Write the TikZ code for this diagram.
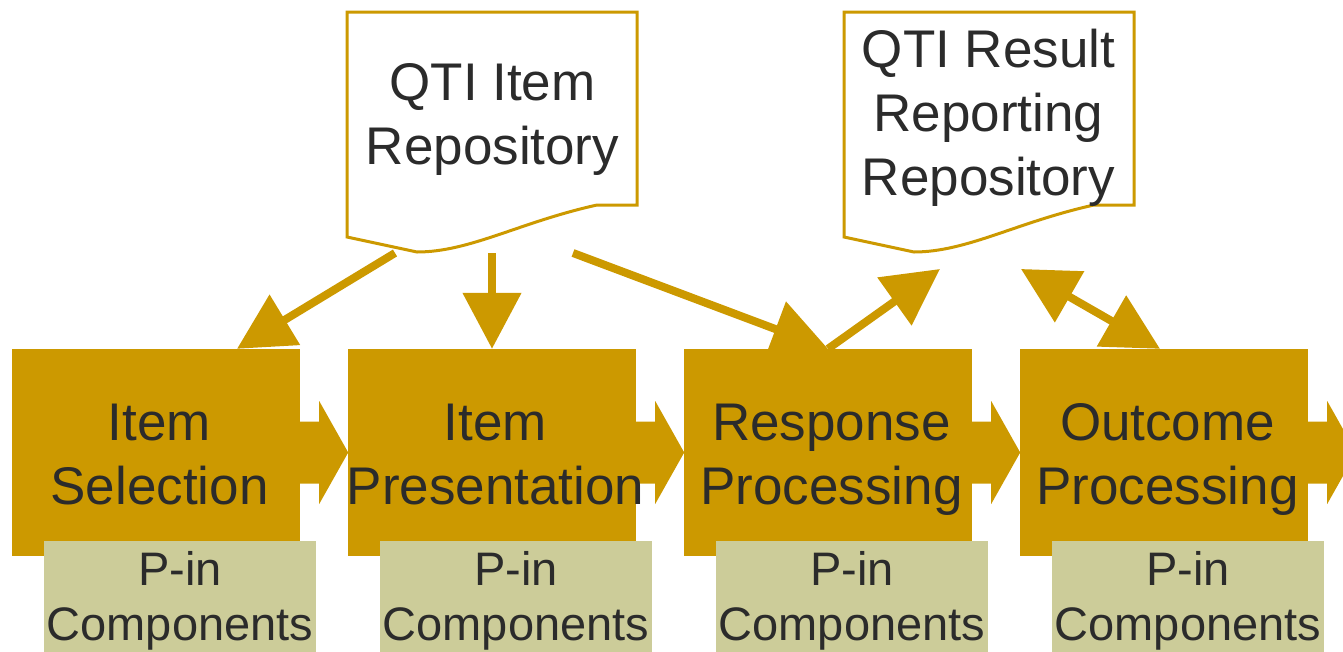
\documentclass[tikz,border=0pt]{standalone}
\usepackage{fontspec}
\setmainfont{Liberation Sans}
\usetikzlibrary{arrows.meta}
\definecolor{gold}{HTML}{CC9900}
\definecolor{pinfill}{HTML}{CCCC99}
\definecolor{txt}{HTML}{2B2B2B}
\begin{document}
\begin{tikzpicture}[x=1pt,y=-1pt,
  procbox/.style={fill=gold, minimum width=288pt, minimum height=207pt, inner sep=0pt},
  pinbox/.style={fill=pinfill, minimum width=272pt, minimum height=120pt, inner sep=0pt},
  bigtext/.style={text=txt, align=center, inner sep=0pt, font=\fontsize{53}{64}\selectfont},
  pintext/.style={text=txt, align=center, inner sep=0pt, font=\fontsize{47}{55}\selectfont},
  conn/.style={draw=gold, line width=8pt, -{Triangle[length=56pt,width=57pt]}},
  blockarr/.pic={\fill[gold] (-5,-31) -- (19,-31) -- (19,-51.5) -- (48,0) -- (19,51.5) -- (19,31) -- (-5,31) -- cycle;},
  docshape/.pic={\filldraw[fill=white, draw=gold, line width=3pt] (0,0) -- (290,0) -- (290,193) -- (250,193) .. controls (173,210) and (123,240) .. (70,240) -- (0,225) -- cycle;}
]
\useasboundingbox (0,0) rectangle (1343,651);
\clip (0,0) rectangle (1343,651);

% process boxes
\node[procbox] (sel)  at (156,452.5) {};
\node[procbox] (pres) at (492,452.5) {};
\node[procbox] (resp) at (828,452.5) {};
\node[procbox] (out)  at (1164,452.5) {};

% plug-in boxes
\node[pinbox] (pin1) at (180,601) {};
\node[pinbox] (pin2) at (516,601) {};
\node[pinbox] (pin3) at (852,601) {};
\node[pinbox] (pin4) at (1188,601) {};

% block arrows between processes
\pic at (sel.east) {blockarr};
\pic at (pres.east) {blockarr};
\pic at (resp.east) {blockarr};
\pic at (out.east) {blockarr};

% texts of process boxes
\node[bigtext] (selT)  at (159.5,460) {\strut Item\\ \strut Selection};
\node[bigtext] (presT) at (495.5,460) {\strut Item\\ \strut Presentation};
\node[bigtext] (respT) at (831.5,460) {\strut Response\\ \strut Processing};
\node[bigtext] (outT)  at (1167.5,460) {\strut Outcome\\ \strut Processing};

% plug-in texts
\node[pintext] (pin1T) at (180,601.5) {\strut P-in\\ \strut Components};
\node[pintext] (pin2T) at (516,601.5) {\strut P-in\\ \strut Components};
\node[pintext] (pin3T) at (852,601.5) {\strut P-in\\ \strut Components};
\node[pintext] (pin4T) at (1188,601.5) {\strut P-in\\ \strut Components};

% repositories
\pic at (347,12) {docshape};
\pic at (844,12) {docshape};
\node[bigtext] (itemRepo) at (492.5,120) {\strut QTI Item\\ \strut Repository};
\node[bigtext] (resRepo)  at (988.5,119) {\strut QTI Result\\ \strut Reporting\\ \strut Repository};

% connector ends on the repositories
\coordinate (ir1) at (395,253);
\coordinate (ir2) at (492,253);
\coordinate (ir3) at (573,253);
\coordinate (rr1) at (940,269);
\coordinate (rr2) at (1021,269);

% connectors
\draw[conn] (ir1) -- ([xshift=81pt]sel.north);
\draw[conn] (ir2) -- (pres.north);
\draw[conn] (ir3) -- (resp.north);
\draw[conn] (resp.north) -- (rr1);
\draw[conn, {Triangle[length=56pt,width=57pt]}-{Triangle[length=56pt,width=57pt]}] (rr2) -- ([xshift=-4pt]out.north);
\end{tikzpicture}
\end{document}
